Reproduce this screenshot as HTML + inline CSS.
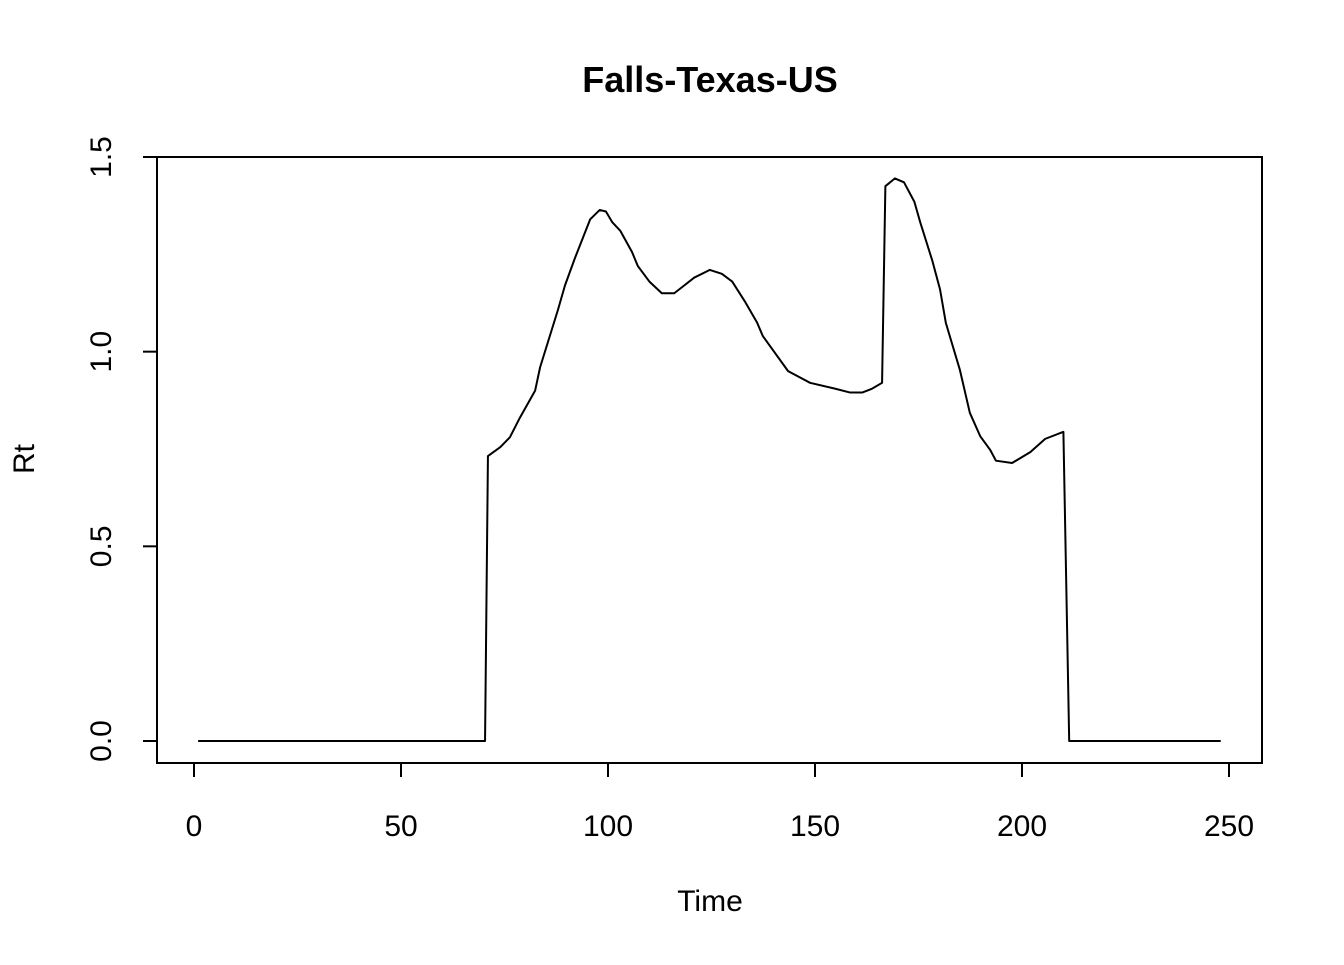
<!DOCTYPE html>
<html><head><meta charset="utf-8"><style>
html,body{margin:0;padding:0;background:#fff;}
svg text{font-family:"Liberation Sans",Arial,sans-serif;fill:#000;}
</style></head><body>
<svg id="chart" width="1344" height="960" viewBox="0 0 1344 960" xmlns="http://www.w3.org/2000/svg">
<rect width="1344" height="960" fill="#fff"/>
<text x="710" y="92" font-size="36" font-weight="bold" text-anchor="middle">Falls-Texas-US</text>
<rect x="157" y="157" width="1105" height="606" fill="none" stroke="#000" stroke-width="2"/>
<g id="xaxis"></g>
<g id="yaxis"></g>
<text x="710" y="911" font-size="30" text-anchor="middle">Time</text>
<text transform="translate(34,459) rotate(-90)" font-size="30" text-anchor="middle">Rt</text>
<polyline id="line" fill="none" stroke="#000" stroke-width="2" stroke-linejoin="round"/>
</svg>
<script>
const times=[1,70.3,71,74,76.3,78.7,82.4,83.6,87.9,89.6,92,95.7,98,99.5,101,103,105.8,107.2,110,113,116,118.4,120.8,124.6,127.5,130,133,136,137.4,143.5,148.8,154.8,158.5,161.4,163.8,166.2,167,169.3,171.5,174,175.4,178.3,180.2,181.6,185,187.4,189.9,192.3,193.7,197.6,202,205.6,210,211.4,248];
const rtValues=[0,0,0.732,0.755,0.78,0.83,0.90,0.96,1.107,1.17,1.24,1.34,1.364,1.36,1.333,1.31,1.256,1.22,1.18,1.15,1.15,1.17,1.19,1.21,1.20,1.18,1.13,1.075,1.04,0.95,0.92,0.905,0.895,0.895,0.905,0.92,1.425,1.445,1.435,1.385,1.333,1.235,1.16,1.074,0.953,0.843,0.783,0.748,0.72,0.714,0.742,0.776,0.794,0,0];
const xTicks=[0,50,100,150,200,250];
const yTicks=[0,0.5,1.0,1.5];
const yTickLabels=["0.0","0.5","1.0","1.5"];
const NS="http://www.w3.org/2000/svg";
const xs=t=>194+t*(1229-194)/250;
const ys=v=>741-v*(741-157)/1.5;
const xg=document.getElementById('xaxis'),yg=document.getElementById('yaxis');
function mk(tag,attrs,parent){const e=document.createElementNS(NS,tag);for(const k in attrs)e.setAttribute(k,attrs[k]);parent.appendChild(e);return e;}
mk('line',{x1:xs(xTicks[0]),x2:xs(xTicks[xTicks.length-1]),y1:763,y2:763,stroke:'#000','stroke-width':2},xg);
xTicks.forEach(t=>{
 const l=mk('line',{x1:xs(t),x2:xs(t),y1:763,y2:777,stroke:'#000','stroke-width':2},xg);
 
 
 const tx=mk('text',{x:xs(t),y:836,'font-size':30,'text-anchor':'middle'},xg);
 tx.textContent=t;
 
 
});
mk('line',{x1:157,x2:157,y1:ys(yTicks[0]),y2:ys(yTicks[yTicks.length-1]),stroke:'#000','stroke-width':2},yg);
yTicks.forEach((v,i)=>{
 const l=mk('line',{x1:143,x2:157,y1:ys(v),y2:ys(v),stroke:'#000','stroke-width':2},yg);
 
 
 const tx=mk('text',{transform:`translate(111,${ys(v)}) rotate(-90)`,'font-size':30,'text-anchor':'middle'},yg);
 tx.textContent=yTickLabels[i];
 
 
});
document.getElementById('line').setAttribute('points',times.map((t,i)=>xs(t)+','+ys(rtValues[i])).join(' '));
</script>
</body></html>
